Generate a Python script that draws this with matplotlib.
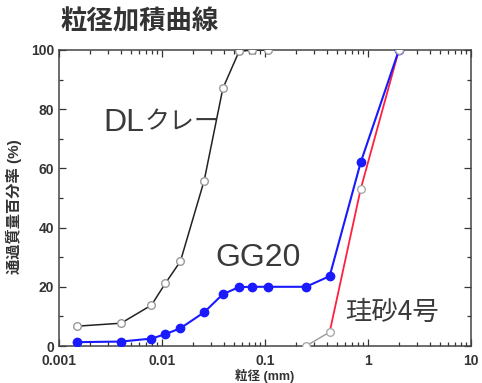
import matplotlib
matplotlib.use("Agg")
import matplotlib.pyplot as plt
from matplotlib.ticker import LogLocator, FixedLocator, NullFormatter

plt.rcParams['font.family'] = ['Liberation Sans', 'Noto Sans CJK JP', 'DejaVu Sans']
CJK = ['Noto Sans CJK JP', 'Liberation Sans', 'DejaVu Sans']

# Data
dl_size = [0.0015, 0.004, 0.0079, 0.0108, 0.0151, 0.0257, 0.039, 0.056, 0.075, 0.106]
dl_pass = [6.7, 7.7, 13.8, 21.2, 28.6, 55.9, 87.0, 99.5, 100, 100]

gg_size = [0.0015, 0.004, 0.0079, 0.0108, 0.0151, 0.0257, 0.039, 0.056, 0.075, 0.106, 0.25, 0.425, 0.85, 2.0]
gg_pass = [1.3, 1.5, 2.5, 4.0, 6.0, 11.4, 17.5, 19.9, 20.0, 20.0, 20.0, 23.6, 62.0, 100]

sand_size = [0.25, 0.425, 0.85, 2.0]
sand_pass = [0.0, 4.7, 53.0, 100]

title = "粒径加積曲線"
xlabel = "粒径 (mm)"
ylabel = "通過質量百分率 (%)"
xticks = [0.001, 0.01, 0.1, 1, 10]
xticklabels = ["0.001", "0.01", "0.1", "1", "10"]
yticks = [0, 20, 40, 60, 80, 100]

fig = plt.figure(figsize=(4.82, 3.83), dpi=100)
ax = fig.add_axes([0.1224, 0.0966, 0.977 - 0.1224, 0.8695 - 0.0966])

ax.plot(dl_size, dl_pass, color='#222222', lw=1.1, marker='o', ms=5.5,
        mfc='white', mec='#999999', mew=1.0, zorder=3)
ax.plot(gg_size, gg_pass, color='#1a1aff', lw=1.5, marker='o', ms=6,
        mfc='#1a1aff', mec='#1a1aff', zorder=4)
ax.plot(sand_size[:2], sand_pass[:2], color='#999999', lw=1.0, zorder=3)
ax.plot(sand_size[1:], sand_pass[1:], color='#ff2040', lw=1.3, zorder=3)
ax.plot(sand_size, sand_pass, ls='none', marker='o', ms=5.5,
        mfc='white', mec='#aaaaaa', mew=1.0, zorder=5)

ax.set_xscale('log')
ax.set_xlim(0.001, 10)
ax.set_ylim(0, 100)
ax.xaxis.set_major_locator(FixedLocator(xticks))
ax.set_xticklabels(xticklabels)
ax.xaxis.set_minor_locator(LogLocator(base=10, subs=range(2, 10)))
ax.xaxis.set_minor_formatter(NullFormatter())
ax.set_yticks(yticks)
ax.set_yticks(range(10, 100, 20), minor=True)

ax.tick_params(which='both', direction='in', top=True, right=True,
               labelsize=10, colors='#333333', width=0.9)
ax.tick_params(which='major', length=5)
ax.tick_params(which='minor', length=3)
ax.tick_params(axis='x', pad=5.5)
for lab in ax.get_xticklabels() + ax.get_yticklabels():
    lab.set_fontweight('bold')
    lab.set_color('#333333')
for s in ax.spines.values():
    s.set_color('#444444')
    s.set_linewidth(1.1)

ax.set_xlabel(xlabel, fontsize=9, fontweight='bold', color='#333333')
ax.xaxis.label.set_verticalalignment('bottom')
ax.xaxis.set_label_coords(0.5, -0.124)
ax.set_ylabel(ylabel, fontsize=11, fontweight='bold', color='#333333')
ax.yaxis.set_label_coords(-0.09, 0.47)

# Annotations
ax.text(0.00267, 75.5, "DL", fontsize=23, color='#3a3a3a', ha='left', va='center')
ax.annotate("クレー", xy=(0.00267, 75.5), xytext=(30, 0), textcoords='offset points',
            fontsize=18, color='#3a3a3a', ha='left', va='center', family=CJK)
ax.text(0.0327, 29.7, "GG20", fontsize=23, color='#3a3a3a', ha='left', va='center')
ax.text(0.598, 11.5, "珪砂4号", fontsize=19, color='#3a3a3a', ha='left', va='center',
        family=CJK)

fig.text(60 / 482, 1 - 22 / 383, title, fontsize=19, fontweight='bold',
         color='#333333', ha='left', va='center')

fig.savefig("out.png", dpi=100)
